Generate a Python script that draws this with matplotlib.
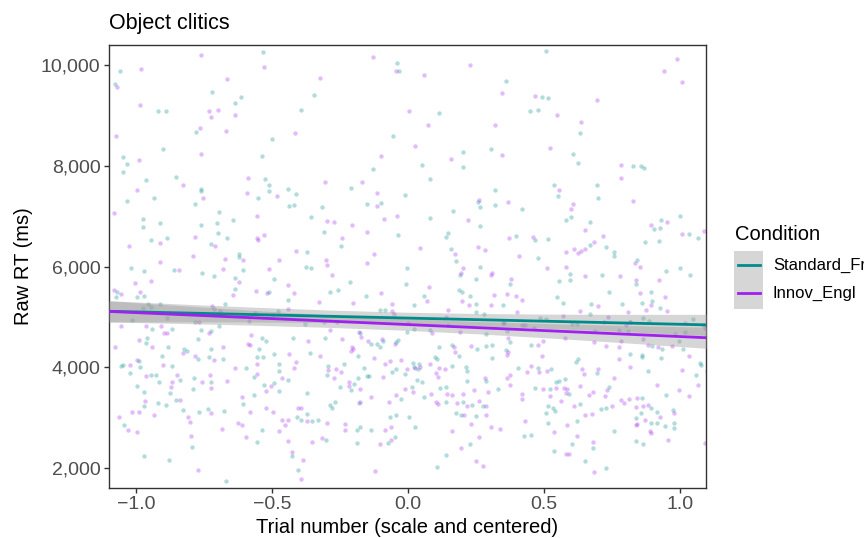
import numpy as np
import matplotlib
matplotlib.use("Agg")
import matplotlib.pyplot as plt
from matplotlib.patches import Rectangle
from matplotlib.lines import Line2D

plt.rcParams['font.family'] = ['Liberation Sans', 'DejaVu Sans']

# raw reaction times per trial (x = trial number, scaled and centred; y = RT in ms)
std_points = [
    (-0.533, 10264), (-1.059, 9875), (-1.078, 9630), (-0.721, 9459), (-0.616, 9366), (-0.635, 9254),
    (-0.919, 9096), (-0.889, 9089), (-0.394, 9116), (-0.780, 8667), (-0.500, 8528), (-0.900, 8330),
    (-0.536, 8198), (-1.050, 8165), (-1.035, 8040), (-1.050, 7875), (-0.965, 7716), (-0.854, 7782),
    (-0.525, 7743), (-0.511, 7611), (-0.763, 7532), (-0.763, 7499), (-0.510, 7505), (-0.442, 7545),
    (-0.413, 7446), (-0.551, 7360), (-0.935, 7353), (-1.033, 7301), (-0.783, 7248), (-0.437, 7208),
    (-0.420, 7228), (-0.696, 7076), (-0.976, 6938), (-0.644, 6924), (-0.913, 6872), (-0.703, 6865),
    (-0.762, 6819), (-0.974, 6779), (-0.699, 6660), (-0.664, 6561), (-0.946, 6528), (-0.888, 6568),
    (-0.726, 6456), (-0.370, 6297), (-0.621, 6245), (-0.620, 6185),
    (-0.039, 10033), (-0.034, 9881), (0.360, 9677), (-0.346, 9399), (0.113, 9043), (-0.055, 8594),
    (0.304, 8337), (0.201, 8277), (0.053, 8020), (0.201, 7980), (-0.130, 7934), (0.080, 7743),
    (-0.210, 7551), (-0.012, 7413), (0.319, 7518), (0.257, 7281), (0.265, 7188), (0.319, 7221),
    (-0.149, 7241), (-0.099, 7261), (-0.316, 7175), (0.167, 7103), (-0.358, 6977), (0.083, 6971),
    (0.264, 6806), (-0.308, 6680), (-0.036, 6627), (0.146, 6667), (0.139, 6581), (-0.246, 6403),
    (0.158, 6357), (0.177, 6113),
    (0.510, 10284), (0.495, 9373), (0.516, 9353), (0.449, 9096), (0.479, 9102), (0.633, 8647),
    (0.609, 8244), (0.627, 8046), (0.828, 8000), (0.858, 8000), (0.870, 7947), (0.537, 7611),
    (0.554, 7393), (0.696, 7617), (0.698, 7367), (0.421, 7149), (0.583, 6918), (0.600, 6977),
    (0.670, 6891), (0.904, 6753), (0.930, 6931), (0.927, 6766), (1.001, 6997), (1.033, 6641),
    (1.067, 6568), (0.397, 6614), (0.467, 6535), (0.516, 6548), (0.872, 6495), (0.923, 6508),
    (0.670, 6423), (0.728, 6390), (0.758, 6284), (0.758, 6218), (0.478, 6179), (0.844, 6139),
    (-1.018, 5974), (-0.973, 5915), (-0.859, 5928), (-0.757, 5875), (-0.712, 5809), (-0.608, 5928),
    (-0.636, 5783), (-0.492, 5756), (-1.071, 5492), (-1.074, 5393), (-0.998, 5393), (-0.970, 5420),
    (-0.635, 5552), (-0.512, 5505), (-0.440, 5334), (-0.956, 5261), (-0.946, 5208), (-0.974, 5182),
    (-0.913, 5268), (-0.713, 5162), (-0.674, 5261), (-0.478, 5129), (-0.887, 4977), (-1.016, 4944),
    (-0.785, 4911), (-0.941, 4766), (-0.867, 4773), (-0.760, 4740), (-0.723, 4720), (-0.696, 4819),
    (-0.424, 4588), (-0.536, 4581), (-0.524, 4529), (-0.960, 4581), (-0.964, 4489), (-0.884, 4416),
    (-0.771, 4562), (-0.547, 4370), (-0.824, 4370), (-0.812, 4331), (-0.726, 4370), (-0.772, 4159),
    (-0.731, 4205), (-0.680, 4159), (-0.905, 4232), (-0.554, 4218), (-0.533, 4218), (-0.494, 4258),
    (-0.989, 4126), (-1.057, 4027), (-1.049, 4040), (-0.987, 4014), (-0.867, 4033), (-0.476, 4060),
    (-0.594, 3981), (-1.021, 3895), (-0.946, 3842), (-0.927, 3855), (-0.789, 3796), (-0.566, 3803),
    (-0.475, 3928), (-0.443, 3756), (-0.915, 3710), (-0.837, 3743), (-0.725, 3717), (-0.530, 3657),
    (-0.492, 3684), (-0.997, 3624), (-0.790, 3572), (-0.474, 3539), (-0.970, 3519), (-0.876, 3486),
    (-0.371, 3492), (-0.567, 3453), (-0.920, 3301), (-0.889, 3261), (-0.854, 3347), (-0.971, 3235),
    (-0.606, 3275), (-0.829, 3162), (-0.734, 3176), (-0.767, 3123), (-0.677, 3129), (-0.371, 3077),
    (-0.408, 3017), (-0.392, 2964), (-1.044, 2866), (-0.536, 2760), (-0.557, 2522), (-0.794, 2423),
    (-0.425, 2245), (-0.973, 2252), (-0.881, 2172), (-0.405, 1968), (-0.670, 1750),
    (-0.376, 6000), (-0.357, 5967), (-0.005, 5967), (0.264, 5994), (-0.212, 5703), (-0.007, 5651),
    (0.190, 5842), (0.251, 5763), (-0.288, 5505), (-0.257, 5545), (-0.156, 5413), (0.061, 5426),
    (0.188, 5545), (0.199, 5499), (0.227, 5420), (0.023, 5248), (0.251, 5268), (0.349, 5235),
    (-0.103, 5142), (-0.083, 5149), (0.252, 5103), (0.281, 5070), (0.146, 4839), (-0.379, 4859),
    (-0.309, 4898), (-0.261, 4905), (-0.175, 4680), (-0.005, 4700), (0.021, 4773), (0.080, 4746),
    (0.289, 4667), (0.366, 4727), (-0.304, 4581), (-0.134, 4469), (-0.114, 4469), (-0.092, 4522),
    (-0.102, 4397), (-0.043, 4496), (-0.037, 4542), (-0.360, 4284), (-0.184, 4225), (0.115, 4410),
    (0.162, 4449), (0.188, 4232), (0.253, 4370), (0.286, 4423), (0.308, 4443), (0.311, 4192),
    (0.101, 4212), (0.108, 4159), (0.020, 4086), (0.039, 4073), (0.161, 4027), (0.212, 4014),
    (-0.294, 4020), (-0.236, 4060), (-0.298, 3849), (-0.163, 3981), (-0.185, 3796), (-0.152, 3836),
    (-0.142, 3836), (-0.059, 3908), (-0.043, 3961), (-0.010, 3862), (0.022, 4007), (0.036, 3961),
    (0.034, 3750), (0.052, 3717), (-0.249, 3611), (-0.200, 3664), (-0.210, 3545), (0.216, 3921),
    (0.219, 3730), (0.286, 3723), (0.016, 3604), (0.061, 3407), (0.119, 3585), (0.141, 3618),
    (0.332, 3565), (-0.027, 3367), (-0.181, 3288), (-0.286, 3248), (-0.278, 3189), (-0.268, 3314),
    (0.141, 3308), (0.203, 3321), (0.235, 3248), (0.277, 3235), (-0.065, 3024), (-0.043, 3057),
    (0.004, 3017), (0.177, 3103), (0.194, 3057), (0.252, 3037), (-0.353, 2938), (-0.330, 2964),
    (-0.178, 2813), (-0.189, 2760), (-0.134, 2753), (0.026, 2819), (-0.301, 2555), (-0.187, 2509),
    (-0.073, 2509), (-0.047, 2615), (0.227, 2489), (0.142, 2271), (0.107, 2034),
    (0.376, 5651), (0.556, 5710), (0.597, 5849), (0.598, 5736), (0.714, 5829), (0.839, 5657),
    (0.949, 5915), (1.001, 5967), (1.039, 5829), (0.548, 5393), (0.570, 5274), (0.673, 5255),
    (0.741, 5505), (0.787, 5261), (0.861, 5281), (0.896, 5499), (0.898, 5314), (0.929, 5189),
    (0.671, 5057), (0.485, 4977), (0.508, 4971), (0.605, 4865), (0.621, 4865), (0.349, 4885),
    (0.817, 4911), (0.866, 4977), (0.886, 4918), (1.049, 4958), (1.086, 4845), (0.690, 4727),
    (0.811, 4727), (0.374, 4515), (0.897, 4430), (0.934, 4357), (0.998, 4535), (1.011, 4370),
    (0.983, 4661), (1.018, 4700), (0.362, 4350), (0.453, 4443), (0.817, 4265), (0.861, 4238),
    (0.861, 4205), (0.932, 4185), (0.619, 4106), (0.625, 4172), (0.405, 3981), (0.479, 3994),
    (0.528, 3968), (0.695, 3882), (0.882, 3928), (1.074, 4080), (1.077, 4040), (1.099, 3935),
    (1.060, 3855), (0.469, 3591), (0.523, 3565), (0.546, 3717), (0.555, 3737), (0.579, 3763),
    (0.594, 3466), (0.741, 3604), (0.951, 3459), (0.516, 3242), (0.508, 3096), (0.534, 3202),
    (0.541, 3129), (0.632, 3281), (0.709, 3182), (0.728, 3202), (0.861, 3400), (0.896, 3195),
    (0.856, 3096), (0.838, 2997), (0.916, 3116), (0.918, 2905), (0.947, 2839), (0.974, 3156),
    (0.981, 2905), (0.978, 2793), (0.896, 2898), (0.516, 2905), (0.622, 2931), (0.758, 2733),
    (0.426, 2648), (0.452, 2667), (0.604, 2489), (0.682, 2410), (0.838, 2542), (0.864, 2489),
    (0.539, 2337), (0.652, 2139), (0.730, 2014),
]

inn_points = [
    (-0.761, 10191), (-0.530, 9967), (-0.983, 9921), (-0.664, 9716), (-1.072, 9564), (-0.986, 9215),
    (-0.731, 9096), (-0.699, 9109), (-0.724, 8964), (-0.636, 9010), (-0.766, 8753), (-0.669, 8693),
    (-0.416, 8654), (-1.076, 8594), (-0.762, 8238), (-0.990, 8106), (-0.828, 7611), (-0.590, 7763),
    (-0.998, 7518), (-0.593, 7466), (-0.481, 7393), (-0.755, 7367), (-1.081, 7070), (-0.554, 6997),
    (-0.530, 6634), (-0.913, 6476), (-0.783, 6588), (-0.554, 6561), (-0.550, 6528), (-1.028, 6416),
    (-0.709, 6403), (-0.413, 6317), (-0.791, 6212), (-0.674, 6159), (-0.606, 6132), (-0.473, 6126),
    (-0.913, 6093),
    (-0.130, 10152), (-0.043, 9888), (0.228, 10007), (-0.322, 9743), (0.058, 9809), (0.347, 9439),
    (0.004, 9083), (0.075, 8812), (0.319, 8805), (0.027, 8390), (0.347, 8205), (-0.100, 8185),
    (0.158, 8139), (-0.305, 7670), (-0.170, 7677), (-0.113, 7452), (0.262, 7320), (0.369, 7287),
    (-0.113, 7208), (-0.297, 6905), (-0.272, 6891), (-0.088, 6938), (-0.040, 6997), (0.221, 6931),
    (-0.205, 6819), (-0.149, 6693), (-0.244, 6574), (0.044, 6377), (0.257, 6383), (0.283, 6330),
    (-0.126, 6245), (0.174, 6245), (-0.300, 6132), (-0.152, 6073),
    (0.991, 10112), (0.943, 9881), (1.007, 9663), (0.467, 9393), (0.696, 9314), (0.548, 9017),
    (0.636, 8871), (0.524, 8350), (0.784, 8007), (0.784, 7756), (0.555, 7512), (1.105, 7406),
    (0.827, 7301), (0.609, 7234), (0.600, 7149), (0.653, 6733), (0.893, 6819), (0.954, 6878),
    (1.010, 6654), (1.090, 6700), (0.371, 6561), (0.462, 6588), (0.718, 6601), (0.686, 6482),
    (0.582, 6284), (0.610, 6350), (0.626, 6264), (0.638, 6317), (0.650, 6343), (0.408, 6205),
    (0.837, 6073),
    (-0.844, 5934), (-0.682, 5948), (-0.512, 5954), (-0.946, 5723), (-1.005, 5670), (-0.622, 5690),
    (-0.443, 5631), (-1.082, 5532), (-1.057, 5459), (-0.986, 5505), (-0.644, 5433), (-0.558, 5525),
    (-0.519, 5479), (-0.419, 5479), (-0.721, 5215), (-0.692, 5123), (-0.443, 5162), (-0.562, 5083),
    (-0.768, 4905), (-0.585, 4918), (-0.498, 5043), (-1.057, 4832), (-0.963, 4832), (-0.907, 4832),
    (-0.731, 4680), (-0.898, 4680), (-0.886, 4680), (-0.576, 4654), (-0.990, 4542), (-0.940, 4410),
    (-0.590, 4469), (-0.581, 4443), (-0.682, 4416), (-1.079, 4397), (-0.827, 4278), (-0.784, 4232),
    (-0.714, 4146), (-0.436, 4258), (-0.413, 4100), (-0.997, 4146), (-1.021, 4053), (-0.902, 4053),
    (-0.554, 4060), (-0.421, 3981), (-0.637, 3981), (-0.962, 3829), (-0.849, 3849), (-0.729, 3842),
    (-0.554, 3862), (-0.462, 3796), (-0.869, 3704), (-0.759, 3717), (-0.665, 3723), (-0.870, 3611),
    (-0.726, 3591), (-0.524, 3525), (-0.502, 3624), (-0.610, 3420), (-0.969, 3334), (-0.839, 3360),
    (-0.524, 3202), (-0.405, 3189), (-0.393, 3202), (-1.014, 3110), (-0.991, 3110), (-0.725, 3097),
    (-0.582, 3110), (-0.495, 3110), (-0.934, 3057), (-1.065, 3017), (-0.810, 3011), (-0.373, 2938),
    (-0.801, 2925), (-0.462, 2951), (-0.441, 2964), (-0.452, 2866), (-0.625, 2898), (-0.611, 2866),
    (-1.030, 2753), (-0.997, 2727), (-0.685, 2780), (-0.474, 2747), (-0.595, 2628), (-0.443, 2542),
    (-0.797, 2634), (-0.425, 2331), (-0.386, 2172), (-0.772, 1961), (-0.394, 1783),
    (-0.298, 6040), (0.202, 5967), (-0.278, 5829), (0.194, 5875), (0.304, 5842), (0.309, 5882),
    (-0.098, 5479), (0.076, 5591), (0.070, 5327), (0.317, 5433), (0.364, 5466), (-0.328, 5294),
    (-0.201, 5281), (0.199, 5321), (0.224, 5248), (0.305, 5241), (-0.058, 5255), (-0.058, 5129),
    (-0.053, 5070), (0.147, 5136), (0.141, 4997), (-0.288, 4753), (-0.181, 4700), (0.000, 4885),
    (0.087, 4680), (0.192, 4700), (-0.368, 4522), (-0.243, 4568), (-0.172, 4601), (-0.146, 4529),
    (-0.094, 4575), (-0.047, 4463), (-0.325, 4225), (-0.205, 4410), (-0.201, 4357), (-0.208, 4331),
    (-0.125, 4192), (0.168, 4397), (0.174, 4304), (0.232, 4423), (-0.065, 4119), (-0.027, 4146),
    (-0.083, 4067), (0.045, 4007), (0.080, 4073), (0.114, 3987), (0.136, 3974), (-0.295, 3941),
    (-0.263, 3961), (-0.245, 3908), (-0.271, 3783), (-0.093, 3809), (-0.004, 3961), (0.027, 3981),
    (0.104, 3888), (0.109, 3816), (-0.217, 3710), (-0.217, 3631), (-0.175, 3578), (0.282, 3796),
    (0.364, 3789), (-0.011, 3578), (0.018, 3512), (0.086, 3466), (0.145, 3466), (0.161, 3446),
    (0.203, 3466), (0.245, 3558), (0.294, 3512), (-0.045, 3459), (-0.134, 3413), (-0.175, 3314),
    (-0.071, 3314), (0.102, 3314), (0.110, 3268), (0.180, 3288), (0.262, 3327), (0.217, 3228),
    (0.287, 3228), (0.206, 3057), (0.287, 3050), (-0.298, 2898), (-0.233, 2878), (-0.230, 2760),
    (-0.086, 2766), (-0.062, 2819), (0.233, 2885), (0.304, 2813), (0.338, 2780), (0.162, 2740),
    (-0.353, 2522), (-0.316, 2595), (-0.104, 2483), (-0.062, 2568), (0.260, 2621), (0.194, 2397),
    (0.249, 2152), (0.276, 2053), (-0.121, 1955),
    (0.513, 5967), (0.582, 6000), (0.853, 5994), (0.380, 5750), (0.650, 5809), (0.780, 5809),
    (0.838, 5736), (0.925, 5736), (0.398, 5426), (0.419, 5347), (0.698, 5215), (0.855, 5479),
    (0.894, 5248), (0.876, 5149), (0.947, 5400), (0.952, 5129), (1.103, 5274), (0.402, 5096),
    (0.632, 5116), (0.809, 5109), (0.572, 5017), (0.736, 4997), (0.723, 4911), (0.420, 4852),
    (0.430, 4845), (0.355, 4885), (0.818, 4905), (0.802, 4852), (1.021, 4885), (1.094, 4786),
    (0.464, 4779), (0.579, 4581), (0.775, 4753), (0.786, 4522), (0.775, 4416), (0.369, 4581),
    (0.498, 4535), (0.684, 4515), (0.865, 4562), (0.882, 4456), (0.921, 4416), (0.972, 4430),
    (0.370, 4304), (0.366, 4245), (0.480, 4449), (0.492, 4232), (0.730, 4423), (0.778, 4172),
    (1.035, 4232), (0.453, 4027), (0.437, 3908), (0.481, 3908), (0.512, 3935), (0.641, 3974),
    (0.701, 3974), (0.649, 3862), (0.818, 4014), (1.007, 3941), (0.374, 3855), (0.374, 3651),
    (0.498, 3572), (0.545, 3598), (0.573, 3598), (0.584, 3565), (0.633, 3637), (0.522, 3433),
    (0.581, 3499), (0.668, 3446), (0.681, 3519), (0.733, 3552), (0.757, 3796), (0.916, 3644),
    (0.998, 3545), (1.066, 3651), (1.035, 3433), (0.419, 3466), (0.421, 3374), (0.563, 3334),
    (0.610, 3228), (0.726, 3433), (0.752, 3242), (0.784, 3347), (0.795, 3294), (0.812, 3367),
    (0.839, 3209), (0.843, 3393), (0.865, 3235), (0.884, 3255), (0.871, 2964), (0.926, 3024),
    (0.978, 3103), (0.842, 2878), (0.839, 2852), (0.891, 2733), (0.893, 2707), (0.430, 2938),
    (0.538, 2727), (0.584, 2859), (0.653, 3057), (0.679, 3083), (0.621, 2634), (0.681, 2522),
    (0.956, 2568), (1.095, 2496), (0.583, 2291), (0.594, 2291), (0.685, 1935),
]

# linear fits with 95% confidence band half-widths
fit_x = [-1.1, -0.825, -0.55, -0.275, 0.0, 0.275, 0.55, 0.825, 1.1]
std_fit_ends = [5115, 4845]
inn_fit_ends = [5112, 4590]
band_halfwidth = [210, 175, 145, 123, 115, 123, 145, 175, 210]

conditions = ['Standard_Fr', 'Innov_Engl']
colors = ['#008B8B', '#A020F0']

fig = plt.figure(figsize=(8.64, 5.38), dpi=100)
W, H = 864, 538
ax = fig.add_axes([109 / W, 1 - 488 / H, (706 - 109) / W, (488 - 45) / H])

std = np.array(std_points)
inn = np.array(inn_points)
ax.scatter(std[:, 0], std[:, 1], s=10, color=colors[0], alpha=0.3, linewidths=0, zorder=2)
ax.scatter(inn[:, 0], inn[:, 1], s=10, color=colors[1], alpha=0.3, linewidths=0, zorder=2)

fx = np.array(fit_x)
hw = np.array(band_halfwidth)
for ends, col in [(std_fit_ends, colors[0]), (inn_fit_ends, colors[1])]:
    fy = np.interp(fx, [fx[0], fx[-1]], ends)
    ax.fill_between(fx, fy - hw, fy + hw, color='#999999', alpha=0.4, linewidth=0, zorder=3)
    ax.plot(fx, fy, color=col, linewidth=2.0, zorder=4, solid_capstyle='butt')

ax.set_xlim(-1.1, 1.097)
ax.set_ylim(1610, 10396)
ax.set_xticks([-1.0, -0.5, 0.0, 0.5, 1.0])
ax.set_xticklabels(['\u22121.0', '\u22120.5', '0.0', '0.5', '1.0'])
ax.set_yticks([2000, 4000, 6000, 8000, 10000])
ax.set_yticklabels(['2,000', '4,000', '6,000', '8,000', '10,000'])
ax.tick_params(axis='both', length=3.6, width=1.0, color='#333333', labelcolor='#4D4D4D',
               labelsize=14, pad=2.5)
for sp in ax.spines.values():
    sp.set_color('#333333')
    sp.set_linewidth(1.0)

ax.set_xlabel('Trial number (scale and centered)', fontsize=14.5, labelpad=3)
ax.set_ylabel('Raw RT (ms)', fontsize=14.5, labelpad=6)
fig.text(109 / W, 1 - 24 / H, 'Object clitics', fontsize=15.5, ha='left', va='center')

# legend on the right
fig.text(735 / W, 1 - 234 / H, 'Condition', fontsize=14.5, ha='left', va='center')
fig.patches.append(Rectangle((734 / W, 1 - 309 / H), 29 / W, 58 / H, transform=fig.transFigure,
                             facecolor='#999999', alpha=0.4, edgecolor='none'))
for i, (lab, col) in enumerate(zip(conditions, colors)):
    yy = 1 - (265 + 28 * i) / H
    fig.lines.append(Line2D([738 / W, 760 / W], [yy, yy], transform=fig.transFigure,
                            color=col, linewidth=2.0))
    fig.text(773 / W, yy, lab, fontsize=12, ha='left', va='center')

fig.savefig('out.png', dpi=100)
